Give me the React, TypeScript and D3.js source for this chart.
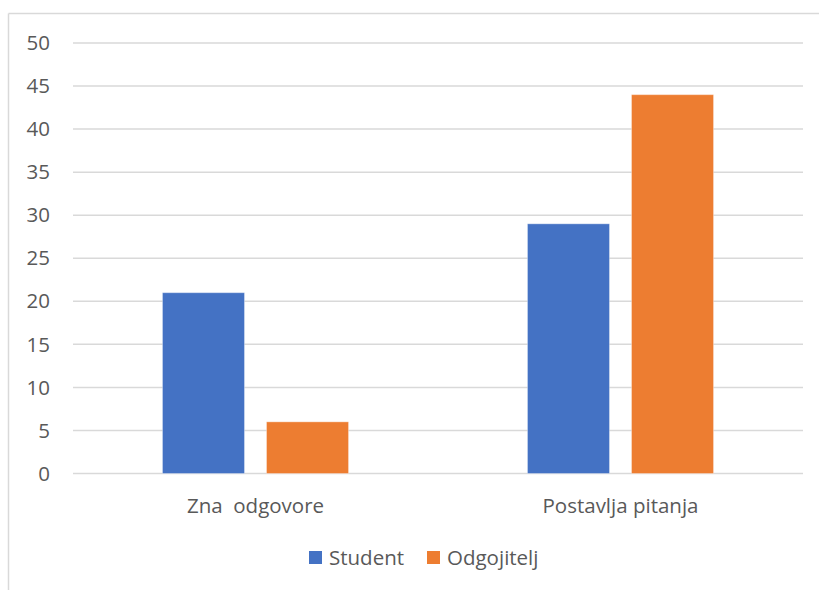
import React from "react";
import * as d3 from "d3";

const categories = ["Zna  odgovore", "Postavlja pitanja"];
const seriesNames = ["Student", "Odgojitelj"];
const studentValues = [21, 29];
const odgojiteljValues = [6, 44];
const yTicks = [0, 5, 10, 15, 20, 25, 30, 35, 40, 45, 50];
const colors = ["#4472C4", "#ED7D31"];

export default function App() {
  const W = 819, H = 590;
  const left = 73, right = 803, top = 43, bottom = 473.5;
  const x0 = d3.scaleBand().domain(categories).range([left, right]).paddingInner(0).paddingOuter(0);
  const inner = d3.scaleBand().domain(seriesNames).range([0, x0.bandwidth()]).paddingInner(0.2115).paddingOuter(0.86);
  const y = d3.scaleLinear().domain([0, 50]).range([bottom, top]);
  const series = [studentValues, odgojiteljValues];
  const font = "'Open Sans', 'Liberation Sans', sans-serif";
  const textColor = "#595959";
  const fs = 20.5;
  return (
    <svg width={W} height={H} style={{ position: "absolute", left: 0, top: 0 }} fontFamily={font}>
      <rect x={0} y={0} width={W} height={H} fill="#fff" />
      <line x1={8.5} y1={13.5} x2={W} y2={13.5} stroke="#d9d9d9" strokeWidth={1.5} />
      <line x1={8.5} y1={13.5} x2={8.5} y2={H} stroke="#d9d9d9" strokeWidth={1.5} />
      {yTicks.map((t) => (
        <g key={t}>
          <line x1={left} x2={right} y1={y(t)} y2={y(t)} stroke="#d9d9d9" strokeWidth={1.5} />
          <text x={50} y={y(t)} dy="0.35em" textAnchor="end" fontSize={fs} fill={textColor}>{t}</text>
        </g>
      ))}
      {categories.map((c, ci) => (
        <g key={c}>
          {seriesNames.map((s, si) => {
            const v = series[si][ci];
            const bx = (x0(c) as number) + (inner(s) as number);
            return (
              <rect key={s} x={bx} y={y(v)} width={inner.bandwidth()} height={y(0) - y(v)}
                fill={colors[si]} stroke="#ffffff" strokeOpacity={0.35} strokeWidth={1} />
            );
          })}
          <text x={(x0(c) as number) + x0.bandwidth() / 2} y={506} dy="0.35em" textAnchor="middle"
            fontSize={fs} fill={textColor} style={{ whiteSpace: "pre" }}>{c}</text>
        </g>
      ))}
      <g>
        <rect x={309} y={551} width={13} height={13} fill={colors[0]} />
        <text x={329} y={557.5} dy="0.35em" fontSize={fs} fill={textColor}>{seriesNames[0]}</text>
        <rect x={427} y={551} width={13} height={13} fill={colors[1]} />
        <text x={447} y={557.5} dy="0.35em" fontSize={fs} fill={textColor}>{seriesNames[1]}</text>
      </g>
    </svg>
  );
}
